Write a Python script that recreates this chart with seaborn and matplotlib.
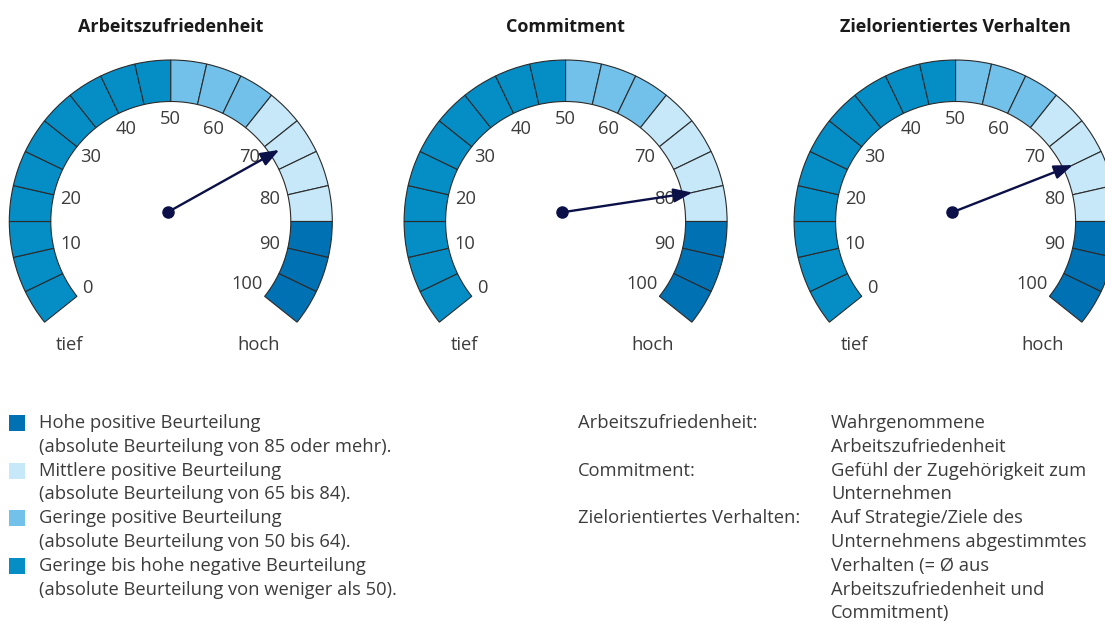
import numpy as np
import seaborn as sns
import matplotlib
matplotlib.use("Agg")
import matplotlib.pyplot as plt
from matplotlib.patches import Wedge, Rectangle

# --- data ---
titles = ["Arbeitszufriedenheit", "Commitment", "Zielorientiertes Verhalten"]
scores = [72, 80, 75]
tick_values = [0, 10, 20, 30, 40, 50, 60, 70, 80, 90, 100]
segment_starts = list(range(0, 100, 5))
band_limits = [50, 65, 85]          # neg < 50 <= low < 65 <= mid < 85 <= high
band_colors = ["#058ec6", "#72c1ea", "#c6e8f8", "#0071b3"]

legend_colors = ["#0071b3", "#c6e8f8", "#72c1ea", "#058ec6"]
legend_titles = ["Hohe positive Beurteilung",
                 "Mittlere positive Beurteilung",
                 "Geringe positive Beurteilung",
                 "Geringe bis hohe negative Beurteilung"]
legend_notes = ["(absolute Beurteilung von 85 oder mehr).",
                "(absolute Beurteilung von 65 bis 84).",
                "(absolute Beurteilung von 50 bis 64).",
                "(absolute Beurteilung von weniger als 50)."]

def_terms = ["Arbeitszufriedenheit:", "Commitment:", "Zielorientiertes Verhalten:"]
def_texts = [["Wahrgenommene", "Arbeitszufriedenheit"],
             ["Gefühl der Zugehörigkeit zum", "Unternehmen"],
             ["Auf Strategie/Ziele des", "Unternehmens abgestimmtes",
              "Verhalten (= Ø aus", "Arbeitszufriedenheit und", "Commitment)"]]

# --- style ---
sns.set_theme(style="white")
plt.rcParams["font.family"] = ["Open Sans", "DejaVu Sans"]
TXT = "#3c3c3c"
NAVY = "#0b1148"
FS = 13.2

W, H = 1105, 623
fig = plt.figure(figsize=(W / 100, H / 100), dpi=100)
ax = fig.add_axes([0, 0, 1, 1])
ax.set_xlim(0, W)
ax.set_ylim(0, H)
ax.set_aspect("equal")
ax.axis("off")

centers_x = [170.8, 565.6, 955.6]
cy = H - 221.5
r_out, r_in = 161.5, 120
piv_dx, piv_dy = -3.3, 9.2          # needle pivot sits a bit above/left of arc centre


def val2ang(v):
    # 50 at top, 15/85 on the horizontal
    return 90 + (50 - v) * 90 / 35


def seg_color(v):
    return band_colors[int(np.searchsorted(band_limits, v, side="right"))]


for cx, title, score in zip(centers_x, titles, scores):
    for v in segment_starts:
        w = Wedge((cx, cy), r_out, val2ang(v + 5), val2ang(v), width=r_out - r_in,
                  facecolor=seg_color(v), edgecolor="#2b2b2b", linewidth=0.8)
        ax.add_patch(w)

    for t in tick_values:
        a = np.deg2rad(val2ang(t))
        r = {0: 107, 100: 100}.get(t, 103)
        dx = -1.5 if t > 50 else 0
        ax.text(cx + dx + r * np.cos(a), cy + r * np.sin(a), str(t),
                ha="center", va="center", fontsize=FS, color=TXT)

    ax.text(cx - 101, H - 345, "tief", ha="center", va="center", fontsize=FS, color=TXT)
    ax.text(cx + 87.5, H - 345, "hoch", ha="center", va="center", fontsize=FS, color=TXT)
    ax.text(cx, H - 27, title, ha="center", va="center", fontsize=13,
            fontweight="bold", color="#1a1a1a")

    a = np.deg2rad(val2ang(score))
    L = 130
    tip = (cx + L * np.cos(a), cy + L * np.sin(a))
    pivot = (cx + piv_dx, cy + piv_dy)
    ax.annotate("", xy=tip, xytext=pivot,
                arrowprops=dict(arrowstyle="-|>,head_length=0.8,head_width=0.3",
                                mutation_scale=14, color=NAVY, lw=1.7,
                                shrinkA=0, shrinkB=0))
    ax.plot([pivot[0]], [pivot[1]], marker="o", markersize=8, color=NAVY)

# --- legend (left) ---
line_h = 23.8
y0 = H - 423
for i, (c, t1, t2) in enumerate(zip(legend_colors, legend_titles, legend_notes)):
    y = y0 - 2 * i * line_h
    ax.add_patch(Rectangle((9, y - 8), 16, 16, facecolor=c, edgecolor="none"))
    ax.text(39, y, t1, ha="left", va="center", fontsize=FS, color=TXT)
    ax.text(39, y - line_h, t2, ha="left", va="center", fontsize=FS, color=TXT)

# --- definitions (right) ---
row = 0
for term, lines in zip(def_terms, def_texts):
    ax.text(578, y0 - row * line_h, term, ha="left", va="center", fontsize=FS, color=TXT)
    for ln in lines:
        ax.text(831, y0 - row * line_h, ln, ha="left", va="center", fontsize=FS, color=TXT)
        row += 1

fig.savefig("out.png", dpi=100)
